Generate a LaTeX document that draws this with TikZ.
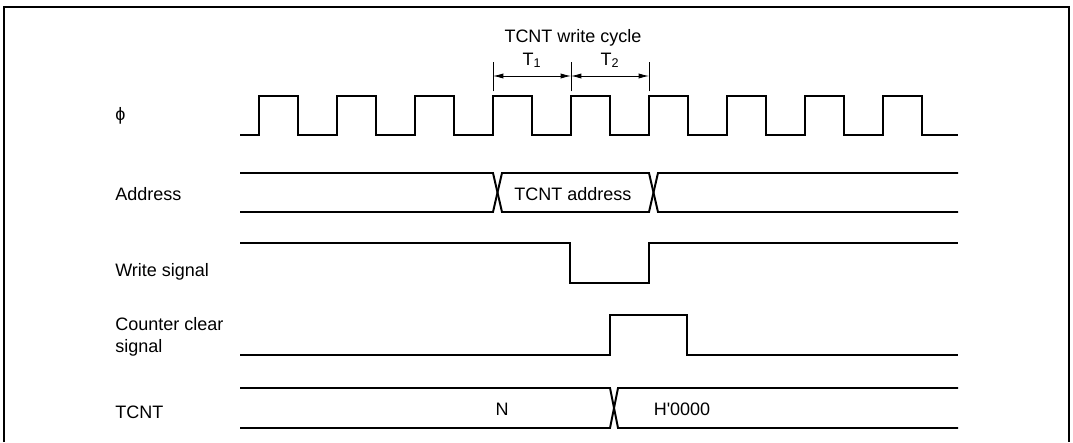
\documentclass[tikz,border=0pt]{standalone}
\usepackage{fontspec}
\setmainfont{Liberation Sans}
\usetikzlibrary{arrows.meta}

\begin{document}
\begin{tikzpicture}[x=0.025cm, y=-0.025cm, font=\fontsize{12.8}{15}\selectfont,
    sig/.style={line width=1.4pt, line join=miter},
    lbl/.style={anchor=base west, inner sep=0pt},
    txt/.style={anchor=base, inner sep=0pt},
    dim/.style={line width=0.6pt, {Latex[length=2.6mm,width=1.3mm]}-{Latex[length=2.6mm,width=1.3mm]}}]
    \useasboundingbox (0,0) rectangle (1073,442);
    \draw[line width=2pt] (4,442) -- (4,7) -- (1069,7) -- (1069,442);

    % signal names
    \node[lbl] (lphi) at (115,120) {ϕ};
    \node[lbl] (laddr) at (115,200) {Address};
    \node[lbl] (lwr) at (115,276) {Write signal};
    \node[lbl] (lclr) at (115,330) {Counter clear};
    \node[lbl] (lclr2) at (115,352) {signal};
    \node[lbl] (ltcnt) at (115,418) {TCNT};

    % write cycle
    \coordinate (t0) at (493,76);
    \coordinate (t1) at (571,76);
    \coordinate (t2) at (649,76);
    \foreach \c in {t0,t1,t2}
        \draw[line width=0.6pt] ([yshift=-11]\c) -- ([yshift=10]\c);
    \draw[dim] (t0) -- (t1);
    \draw[dim] (t1) -- (t2);
    \node[txt] (cyc) at (573,42) {TCNT write cycle};
    \node[txt] (tone) at (532,65) {T\textsubscript{1}};
    \node[txt] (ttwo) at (610,65) {T\textsubscript{2}};

    % clock
    \draw[sig] (240,135) \foreach \x in {259,337,...,883} { -- (\x,135) -- (\x,96) -- (\x+39,96) -- (\x+39,135) } -- (958,135);

    % address
    \draw[sig] (240,173) -- (493,173) -- (502,212) -- (649,212) -- (658,173) -- (958,173);
    \draw[sig] (240,212) -- (493,212) -- (502,173) -- (649,173) -- (658,212) -- (958,212);
    \node[txt] (vaddr) at (573,200) {TCNT address};

    % write signal
    \draw[sig] (240,243) -- (570,243) -- (570,283) -- (649,283) -- (649,243) -- (958,243);

    % counter clear
    \draw[sig] (240,355) -- (610,355) -- (610,315) -- (687,315) -- (687,355) -- (958,355);

    % TCNT
    \draw[sig] (240,388) -- (610,388) -- (618,428) -- (958,428);
    \draw[sig] (240,428) -- (610,428) -- (618,388) -- (958,388);
    \node[txt] (vn) at (502,415) {N};
    \node[txt] (vh) at (682,415) {H\textquotesingle 0000};
\end{tikzpicture}
\end{document}
